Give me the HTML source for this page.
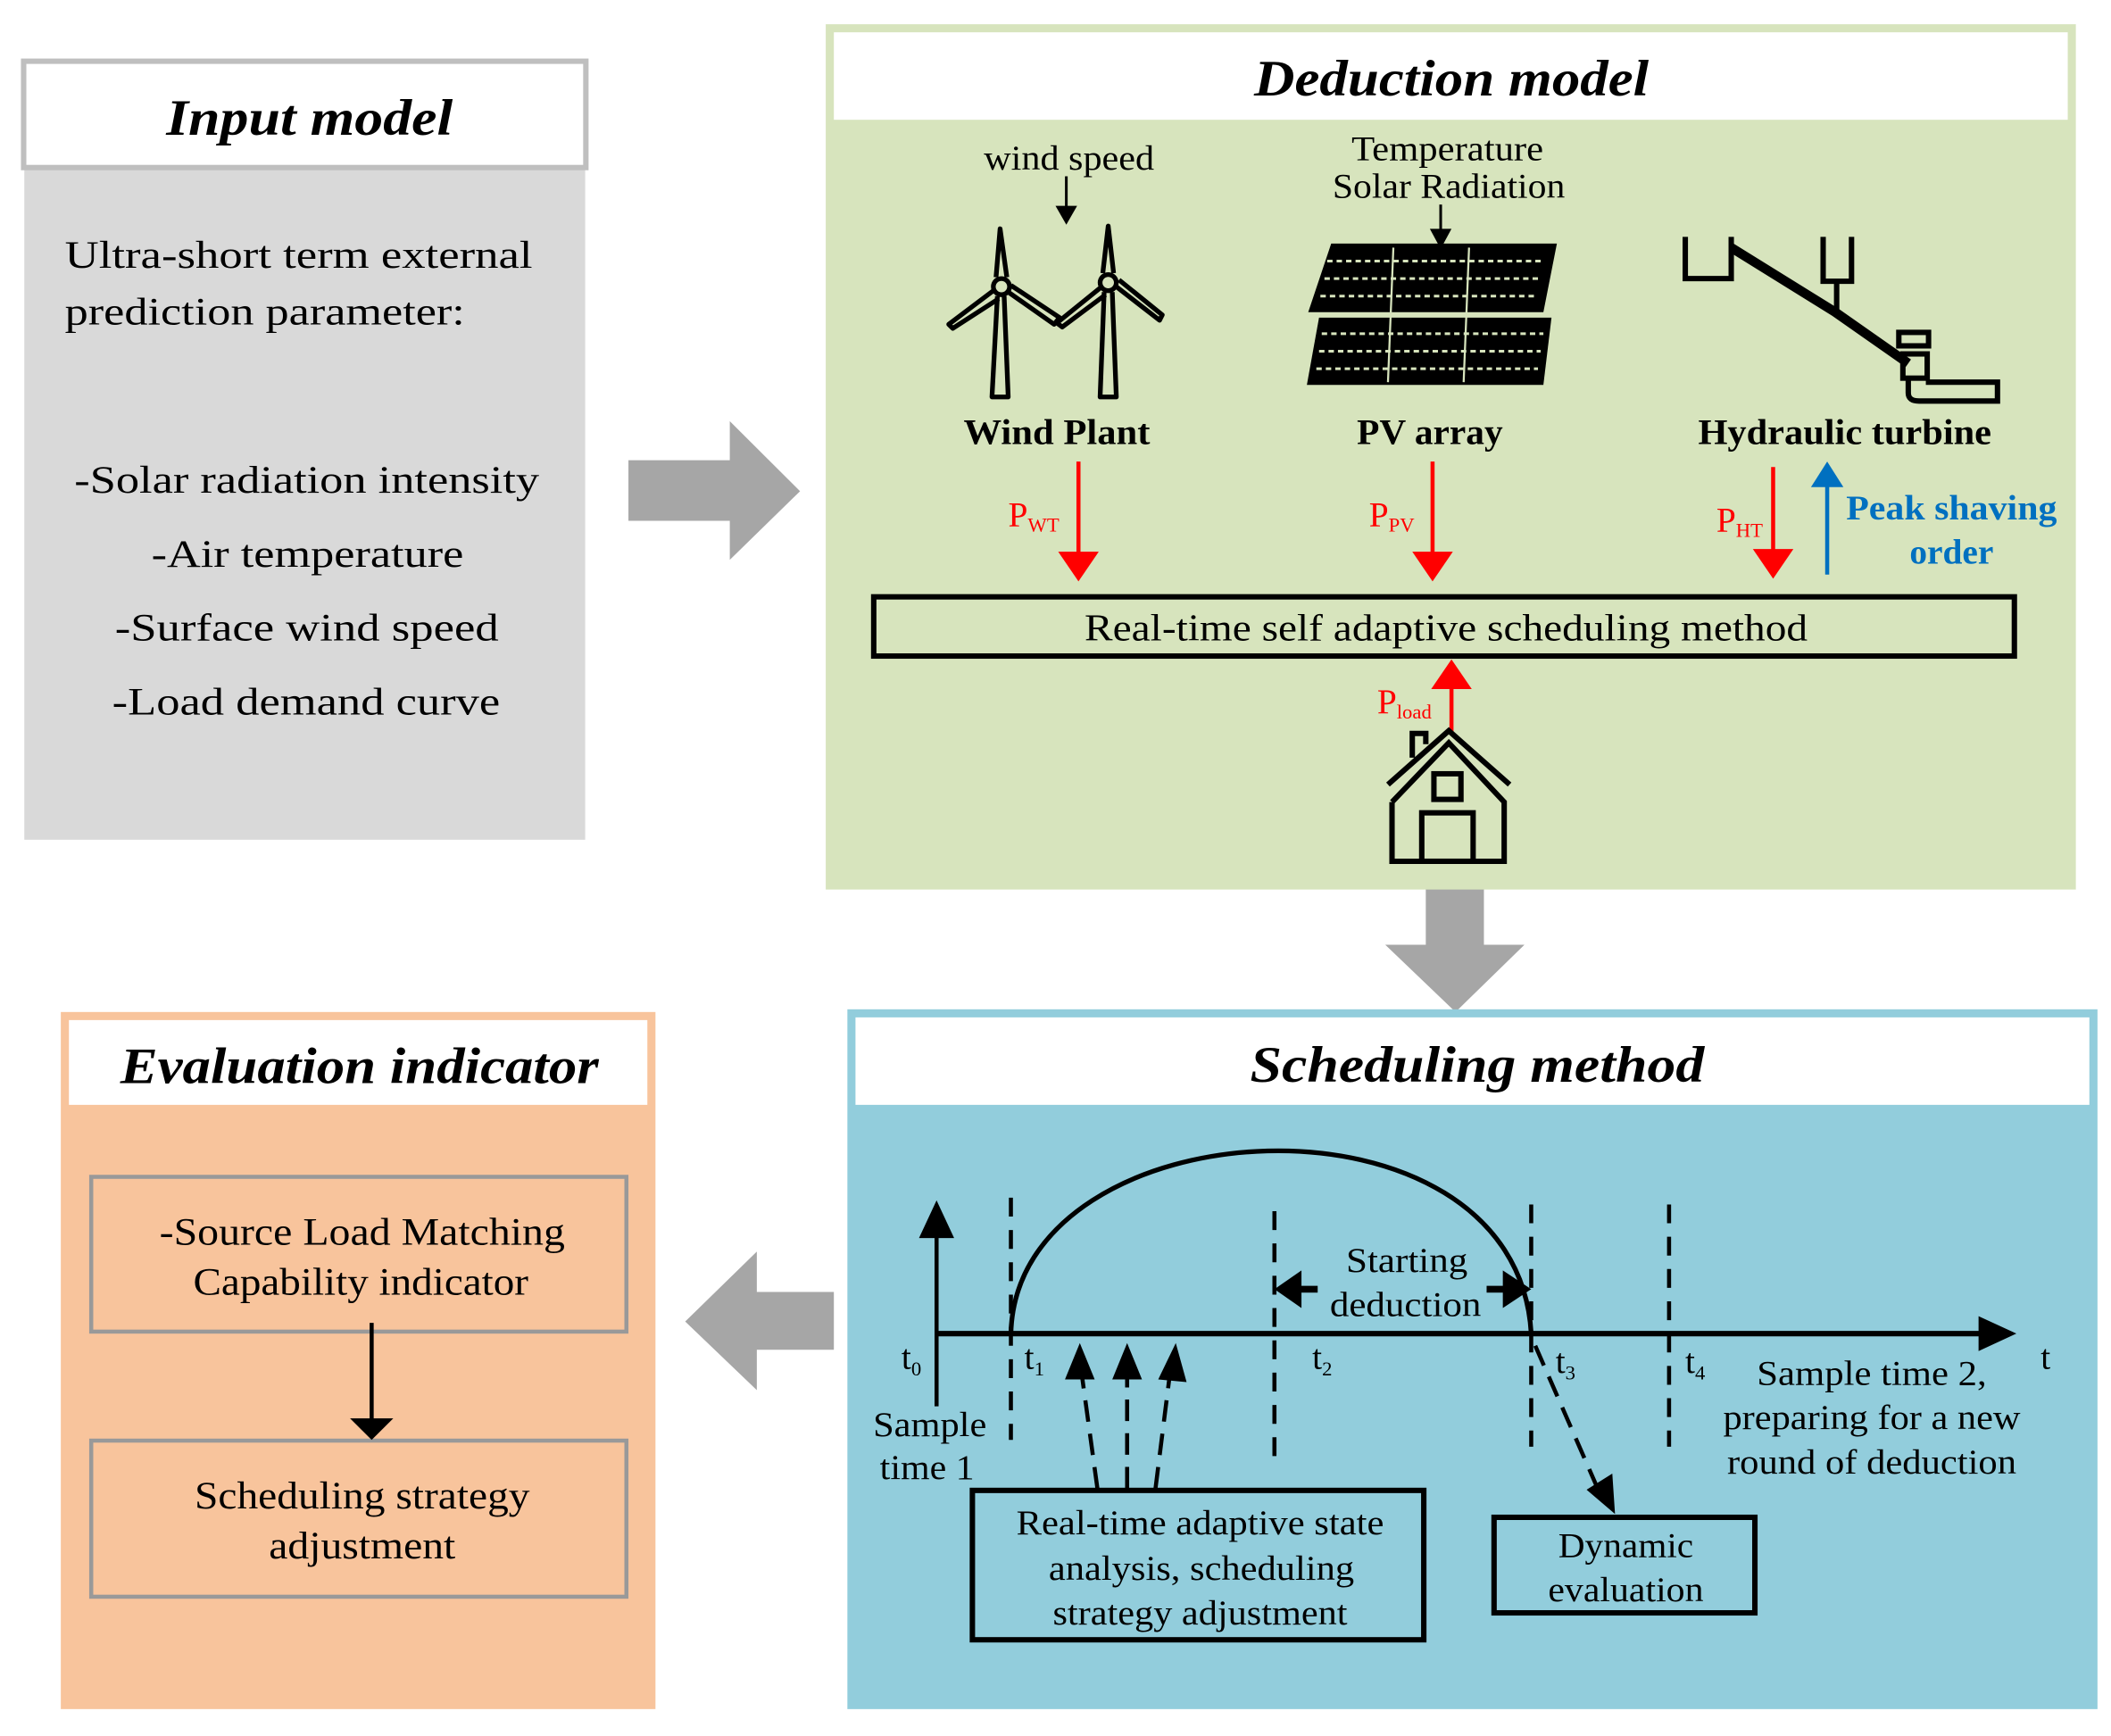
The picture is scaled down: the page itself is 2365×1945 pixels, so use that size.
<!DOCTYPE html>
<html><head><meta charset="utf-8"><style>html,body{margin:0;padding:0;background:#fff}svg{display:block}</style></head>
<body>
<svg width="2365" height="1945" viewBox="0 0 1562 1290" preserveAspectRatio="none" xmlns="http://www.w3.org/2000/svg" font-family="'Liberation Serif', serif">
<!-- Input model -->
<rect x="18" y="125" width="415" height="499" fill="#d9d9d9"/>
<rect x="17.5" y="45.5" width="416" height="79" fill="#fff" stroke="#bfbfbf" stroke-width="4"/>
<text x="229" y="100" font-size="38" font-weight="bold" font-style="italic" text-anchor="middle" textLength="212" lengthAdjust="spacingAndGlyphs">Input model</text>
<g font-size="29" fill="#000">
<text x="48" y="199" textLength="346" lengthAdjust="spacingAndGlyphs">Ultra-short term external</text>
<text x="48" y="241" textLength="296" lengthAdjust="spacingAndGlyphs">prediction parameter:</text>
<text x="55" y="366" textLength="344" lengthAdjust="spacingAndGlyphs">-Solar radiation intensity</text>
<text x="112" y="421" textLength="231" lengthAdjust="spacingAndGlyphs">-Air temperature</text>
<text x="85" y="476" textLength="284" lengthAdjust="spacingAndGlyphs">-Surface wind speed</text>
<text x="83" y="531" textLength="287" lengthAdjust="spacingAndGlyphs">-Load demand curve</text>
</g>
<!-- gray arrows -->
<path d="M465,342 H540 V313 L592,365 L540,416 V387 H465z" fill="#a6a6a6"/>
<path d="M1055,657 H1098 V702 H1128 L1077,752 L1025,702 H1055z" fill="#a6a6a6"/>
<path d="M617,960 V1003 H560 V1033 L507,982 L560,930 V960z" fill="#a6a6a6"/>
<!-- Deduction model -->
<rect x="611" y="18" width="925" height="643" fill="#d7e4bd"/>
<rect x="617" y="24" width="913" height="65" fill="#fff"/>
<text x="1074" y="71" font-size="38" font-weight="bold" font-style="italic" text-anchor="middle" textLength="292" lengthAdjust="spacingAndGlyphs">Deduction model</text>
<text x="791" y="126" font-size="26" text-anchor="middle" textLength="126" lengthAdjust="spacingAndGlyphs">wind speed</text>
<line x1="789" y1="131" x2="789" y2="158" stroke="#000" stroke-width="2"/><path d="M781,153 L797,153 L789,167z"/>
<text x="1071" y="119" font-size="26" text-anchor="middle" textLength="142" lengthAdjust="spacingAndGlyphs">Temperature</text>
<text x="1072" y="147" font-size="26" text-anchor="middle" textLength="172" lengthAdjust="spacingAndGlyphs">Solar Radiation</text>
<line x1="1066" y1="152" x2="1066" y2="175" stroke="#000" stroke-width="2"/><path d="M1058,170 L1074,170 L1066,185z"/>
<!-- wind turbines -->
<g fill="none" stroke="#000" stroke-width="3.5" stroke-linejoin="round">
<path d="M738,220 L734,295 H746 L743,220"/>
<path d="M737,206 L740,170 L745,206"/>
<path d="M735,216 L702,241 L705,244 L739,222"/>
<path d="M746,217 L780,241 L784,236 L748,212"/>
<circle cx="741" cy="213" r="6" fill="#d7e4bd"/>
<path d="M817,217 L814,295 H826 L823,217"/>
<path d="M816,203 L820,168 L824,203"/>
<path d="M814,214 L782,240 L786,243 L818,219"/>
<path d="M826,213 L858,238 L860,234 L828,208"/>
<circle cx="820" cy="210" r="6" fill="#d7e4bd"/>
</g>
<!-- PV panels -->
<g>
<path d="M985,181 L1152,181 L1142,232 L968,232z" fill="#000"/>
<path d="M976,236 L1148,236 L1142,286 L967,286z" fill="#000"/>
<g stroke="#d7e4bd" stroke-width="2" stroke-dasharray="4,3">
<line x1="982" y1="194" x2="1142" y2="194"/><line x1="980" y1="207" x2="1140" y2="207"/><line x1="977" y1="220" x2="1138" y2="220"/>
<line x1="978" y1="248" x2="1142" y2="248"/><line x1="976" y1="261" x2="1140" y2="261"/><line x1="974" y1="274" x2="1138" y2="274"/>
</g>
<g stroke="#d7e4bd" stroke-width="1.5"><line x1="1031" y1="184" x2="1027" y2="284"/><line x1="1087" y1="184" x2="1083" y2="284"/><line x1="968" y1="234" x2="1150" y2="234"/></g>
</g>
<!-- hydraulic turbine -->
<g fill="none" stroke="#000" stroke-width="4">
<path d="M1247,176 V207 H1281 V176"/>
<path d="M1349,176 V209 H1370 V176"/>
<path d="M1281,184 L1358,232 L1412,270" stroke-width="7"/>
<line x1="1359" y1="209" x2="1359" y2="232"/>
<rect x="1405" y="247" width="22" height="10"/>
<rect x="1408" y="263" width="18" height="18"/>
<path d="M1412,281 V292 Q1412,298 1420,298 H1478 V284 H1425"/>
</g>
<g font-size="27" font-weight="bold" text-anchor="middle">
<text x="782" y="330" textLength="138" lengthAdjust="spacingAndGlyphs">Wind Plant</text>
<text x="1058" y="330" textLength="108" lengthAdjust="spacingAndGlyphs">PV array</text>
<text x="1365" y="330" textLength="217" lengthAdjust="spacingAndGlyphs">Hydraulic turbine</text>
</g>
<!-- red arrows -->
<g stroke="#ff0000" stroke-width="3" fill="#ff0000">
<line x1="798" y1="343" x2="798" y2="412"/><path d="M783,410 L813,410 L798,432z" stroke="none"/>
<line x1="1060" y1="343" x2="1060" y2="412"/><path d="M1045,410 L1075,410 L1060,432z" stroke="none"/>
<line x1="1312" y1="347" x2="1312" y2="410"/><path d="M1297,408 L1327,408 L1312,430z" stroke="none"/>
<line x1="1074" y1="545" x2="1074" y2="510"/><path d="M1059,512 L1089,512 L1074,490z" stroke="none"/>
</g>
<g fill="#ff0000" font-size="26">
<text x="746" y="391">P<tspan font-size="15" dy="4">WT</tspan></text>
<text x="1013" y="391">P<tspan font-size="15" dy="4">PV</tspan></text>
<text x="1270" y="395">P<tspan font-size="15" dy="4">HT</tspan></text>
<text x="1019" y="530">P<tspan font-size="15" dy="4">load</tspan></text>
</g>
<line x1="1352" y1="427" x2="1352" y2="360" stroke="#0070c0" stroke-width="3"/><path d="M1340,362 L1364,362 L1352,343z" fill="#0070c0"/>
<g fill="#0070c0" font-size="26" font-weight="bold" text-anchor="middle">
<text x="1444" y="386" textLength="156" lengthAdjust="spacingAndGlyphs">Peak shaving</text>
<text x="1444" y="419">order</text>
</g>
<rect x="646.5" y="443.5" width="844" height="44" fill="none" stroke="#000" stroke-width="4"/>
<text x="1070" y="476" font-size="28" text-anchor="middle" textLength="535" lengthAdjust="spacingAndGlyphs">Real-time self adaptive scheduling method</text>
<!-- house -->
<g fill="none" stroke="#000" stroke-width="4">
<path d="M1027,583 L1072,543 L1117,583"/>
<path d="M1030,596 L1072,552 L1113,596 V640 H1030 V596"/>
<path d="M1045,563 V545 H1055 V553"/>
<rect x="1061" y="575" width="20" height="19"/>
<rect x="1052" y="604" width="38" height="36"/>
</g>
<!-- Scheduling method -->
<rect x="627" y="750" width="925" height="520" fill="#92cddc"/>
<rect x="633" y="756" width="913" height="65" fill="#fff"/>
<text x="1093" y="804" font-size="38" font-weight="bold" font-style="italic" text-anchor="middle" textLength="336" lengthAdjust="spacingAndGlyphs">Scheduling method</text>
<g stroke="#000" fill="none">
<line x1="693" y1="991" x2="1470" y2="991" stroke-width="4"/>
<path d="M1464,978 L1492,991 L1464,1004z" fill="#000" stroke="none"/>
<line x1="693" y1="1045" x2="693" y2="915" stroke-width="3"/>
<path d="M680,920 L693,892 L706,920z" fill="#000" stroke="none"/>
<g stroke-width="3" stroke-dasharray="14,10">
<line x1="748" y1="890" x2="748" y2="1070"/>
<line x1="943" y1="900" x2="943" y2="1082"/>
<line x1="1133" y1="895" x2="1133" y2="1075"/>
<line x1="1235" y1="895" x2="1235" y2="1075"/>
</g>
<path d="M748,991 C752,820 1122,800 1133,991" stroke-width="3.5"/>
<line x1="960" y1="958" x2="975" y2="958" stroke-width="5"/>
<path d="M943,958 L963,944 L963,972z" fill="#000" stroke="none"/>
<line x1="1100" y1="958" x2="1115" y2="958" stroke-width="5"/>
<path d="M1133,958 L1112,944 L1112,972z" fill="#000" stroke="none"/>
<g stroke-width="3" stroke-dasharray="16,9">
<line x1="812" y1="1106" x2="800" y2="1018"/>
<line x1="834" y1="1106" x2="834" y2="1018"/>
<line x1="855" y1="1106" x2="866" y2="1018"/>
<line x1="1136" y1="1000" x2="1183" y2="1108"/>
</g>
<path d="M788,1025 L799,998 L810,1025z M823,1025 L834,998 L845,1025z M857,1025 L870,998 L878,1027z M1174,1107 L1195,1125 L1193,1095z" fill="#000" stroke="none"/>
<rect x="719.5" y="1107.5" width="334" height="111" stroke-width="4"/>
<rect x="1105.5" y="1127.5" width="193" height="71" stroke-width="4"/>
</g>
<g font-size="26" text-anchor="middle">
<text x="1041" y="945" textLength="90" lengthAdjust="spacingAndGlyphs">Starting</text>
<text x="1040" y="978" textLength="112" lengthAdjust="spacingAndGlyphs">deduction</text>
<text x="688" y="1067" textLength="84" lengthAdjust="spacingAndGlyphs">Sample</text>
<text x="686" y="1099" textLength="70" lengthAdjust="spacingAndGlyphs">time 1</text>
<text x="1385" y="1029" textLength="170" lengthAdjust="spacingAndGlyphs">Sample time 2,</text>
<text x="1385" y="1062" textLength="220" lengthAdjust="spacingAndGlyphs">preparing for a new</text>
<text x="1385" y="1095" textLength="214" lengthAdjust="spacingAndGlyphs">round of deduction</text>
<text x="888" y="1140" textLength="272" lengthAdjust="spacingAndGlyphs">Real-time adaptive state</text>
<text x="889" y="1174" textLength="226" lengthAdjust="spacingAndGlyphs">analysis, scheduling</text>
<text x="888" y="1207" textLength="218" lengthAdjust="spacingAndGlyphs">strategy adjustment</text>
<text x="1203" y="1157" textLength="100" lengthAdjust="spacingAndGlyphs">Dynamic</text>
<text x="1203" y="1190" textLength="115" lengthAdjust="spacingAndGlyphs">evaluation</text>
</g>
<g font-size="26">
<text x="667" y="1017">t<tspan font-size="15" dy="5">0</tspan></text>
<text x="758" y="1017">t<tspan font-size="15" dy="5">1</tspan></text>
<text x="971" y="1017">t<tspan font-size="15" dy="5">2</tspan></text>
<text x="1151" y="1020">t<tspan font-size="15" dy="5">3</tspan></text>
<text x="1247" y="1020">t<tspan font-size="15" dy="5">4</tspan></text>
<text x="1510" y="1017">t</text>
</g>
<!-- Evaluation indicator -->
<rect x="45" y="752" width="440" height="518" fill="#f8c49c"/>
<rect x="51" y="758" width="428" height="63" fill="#fff"/>
<text x="266" y="805" font-size="38" font-weight="bold" font-style="italic" text-anchor="middle" textLength="354" lengthAdjust="spacingAndGlyphs">Evaluation indicator</text>
<rect x="67.5" y="874.5" width="396" height="115" fill="none" stroke="#999" stroke-width="3"/>
<rect x="67.5" y="1070.5" width="396" height="116" fill="none" stroke="#999" stroke-width="3"/>
<g font-size="29" text-anchor="middle">
<text x="268" y="925" textLength="300" lengthAdjust="spacingAndGlyphs">-Source Load Matching</text>
<text x="267" y="962" textLength="248" lengthAdjust="spacingAndGlyphs">Capability indicator</text>
<text x="268" y="1121" textLength="248" lengthAdjust="spacingAndGlyphs">Scheduling strategy</text>
<text x="268" y="1158" textLength="138" lengthAdjust="spacingAndGlyphs">adjustment</text>
</g>
<line x1="275" y1="983" x2="275" y2="1056" stroke="#000" stroke-width="3"/>
<path d="M259,1054 L291,1054 L275,1070z"/>
</svg>
</body></html>
